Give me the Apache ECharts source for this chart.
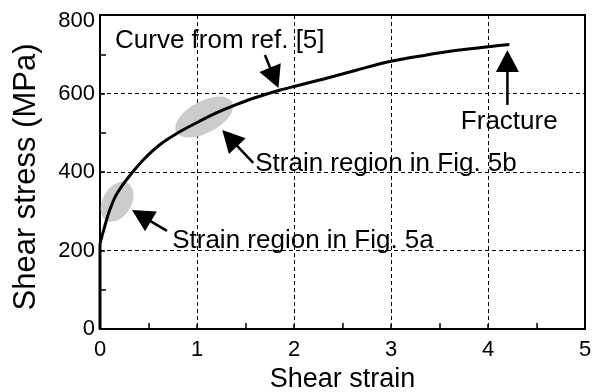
<!DOCTYPE html>
<html>
<head>
<meta charset="utf-8">
<script src="https://cdn.jsdelivr.net/npm/echarts@6/dist/echarts.min.js"></script>
<style>
  html, body { margin: 0; padding: 0; background: #fff; }
  #chart { width: 592px; height: 392px; }
</style>
</head>
<body>
<div id="chart"></div>
<script>
// shear strain / shear stress (MPa)
const curve = [
  [0, 0], [0, 214], [0.02, 236], [0.045, 258], [0.07, 280], [0.10, 303],
  [0.155, 336], [0.23, 366], [0.327, 397], [0.45, 432], [0.62, 470],
  [0.826, 503], [1.016, 528], [1.205, 551], [1.377, 569], [1.58, 588],
  [1.86, 609], [2.0, 618], [2.307, 637], [2.65, 660], [3.0, 682],
  [3.34, 697], [3.685, 710], [4.03, 720], [4.22, 725]
];
const regionCenters = [[0.176, 324], [1.074, 540]];
const arrowTails = [[1.70, 698], [1.58, 423], [0.69, 250], [4.20, 571]];
const arrowTips = [[1.84, 614], [1.26, 507], [0.33, 303], [4.20, 711]];
const noteLabels = ['Curve from ref. [5]', 'Fracture', 'Strain region in Fig. 5b', 'Strain region in Fig. 5a'];
const notePos = [[0.155, 734], [3.72, 528], [1.60, 420], [0.744, 224]];
const xTicks = [0, 1, 2, 3, 4, 5];
const yTicks = [0, 200, 400, 600, 800];

// ellipse look (pixels / degrees)
const ellipseShapes = [
  { rx: 21.5, ry: 14.4, angle: 60 },
  { rx: 31.7, ry: 15.9, angle: 28 }
];

const FONT = '"Liberation Sans", Arial, Helvetica, sans-serif';

const chart = echarts.init(document.getElementById('chart'));

const arrowData = arrowTails.map((t, i) => [t[0], t[1], arrowTips[i][0], arrowTips[i][1]]);
const noteData = notePos.map((p, i) => [p[0], p[1], i]);
const ellipseData = regionCenters.map((c, i) => [c[0], c[1], i]);

const option = {
  animation: false,
  grid: {
    left: 100, right: 7, top: 15, bottom: 63,
    containLabel: false,
    outerBoundsMode: 'none',
    show: true, borderColor: '#000', borderWidth: 2
  },
  xAxis: {
    type: 'value',
    min: xTicks[0], max: xTicks[xTicks.length - 1], interval: 1,
    name: 'Shear strain',
    nameLocation: 'middle',
    nameGap: 35,
    nameTextStyle: { fontFamily: FONT, fontSize: 27, color: '#000' },
    axisLine: { lineStyle: { color: '#000', width: 2 } },
    axisTick: { inside: true, length: 5, lineStyle: { color: '#000', width: 1.5 } },
    minorTick: { show: true, splitNumber: 2, length: 6, lineStyle: { color: '#000', width: 1.5 } },
    axisLabel: { fontFamily: FONT, fontSize: 22, color: '#000', margin: 10 },
    splitLine: { show: true, lineStyle: { color: '#000', width: 1, type: [4, 3] } }
  },
  yAxis: {
    type: 'value',
    min: yTicks[0], max: yTicks[yTicks.length - 1], interval: 200,
    name: 'Shear stress (MPa)',
    nameLocation: 'middle',
    nameGap: 58,
    nameTextStyle: { fontFamily: FONT, fontSize: 31, color: '#000', padding: [0, 10, 0, 0] },
    axisLine: { lineStyle: { color: '#000', width: 2 } },
    axisTick: { inside: true, length: 5, lineStyle: { color: '#000', width: 1.5 } },
    minorTick: { show: true, splitNumber: 2, length: 6, lineStyle: { color: '#000', width: 1.5 } },
    axisLabel: {
      fontFamily: FONT, fontSize: 22, color: '#000', margin: 5,
      formatter: v => (v === 800 ? '{t|800}' : String(v)),
      rich: { t: { fontFamily: FONT, fontSize: 22, color: '#000', padding: [12, 0, 0, 0] } }
    },
    splitLine: { show: true, lineStyle: { color: '#000', width: 1, type: [4, 3] } }
  },
  series: [
    {
      type: 'custom',
      z: 1,
      data: ellipseData,
      renderItem: (params, api) => {
        const p = api.coord([api.value(0), api.value(1)]);
        const s = ellipseShapes[api.value(2)];
        return {
          type: 'circle',
          x: p[0], y: p[1],
          rotation: s.angle * Math.PI / 180,
          scaleX: s.rx / 10, scaleY: s.ry / 10,
          shape: { cx: 0, cy: 0, r: 10 },
          style: { fill: '#cccccc' }
        };
      }
    },
    {
      type: 'line',
      z: 3,
      data: curve,
      showSymbol: false,
      smooth: 0.3,
      lineStyle: { color: '#000', width: 3 }
    },
    {
      type: 'custom',
      z: 4,
      data: arrowData,
      renderItem: (params, api) => {
        const a = api.coord([api.value(0), api.value(1)]);
        const b = api.coord([api.value(2), api.value(3)]);
        const dx = b[0] - a[0], dy = b[1] - a[1];
        const len = Math.sqrt(dx * dx + dy * dy);
        const ux = dx / len, uy = dy / len;
        const L = 22, W = 11.5;
        const bx = b[0] - ux * L, by = b[1] - uy * L;
        return {
          type: 'group',
          children: [
            {
              type: 'line',
              shape: { x1: a[0], y1: a[1], x2: bx + ux * 2, y2: by + uy * 2 },
              style: { stroke: '#000', lineWidth: 2.5 }
            },
            {
              type: 'polygon',
              shape: { points: [[b[0], b[1]], [bx - uy * W, by + ux * W], [bx + uy * W, by - ux * W]] },
              style: { fill: '#000' }
            }
          ]
        };
      }
    },
    {
      type: 'custom',
      z: 5,
      data: noteData,
      renderItem: (params, api) => {
        const p = api.coord([api.value(0), api.value(1)]);
        return {
          type: 'text',
          x: p[0], y: p[1],
          style: {
            text: noteLabels[api.value(2)],
            font: '26px ' + FONT,
            fill: '#000',
            align: 'left',
            verticalAlign: 'middle'
          }
        };
      }
    }
  ]
};

chart.setOption(option);
</script>
</body>
</html>
